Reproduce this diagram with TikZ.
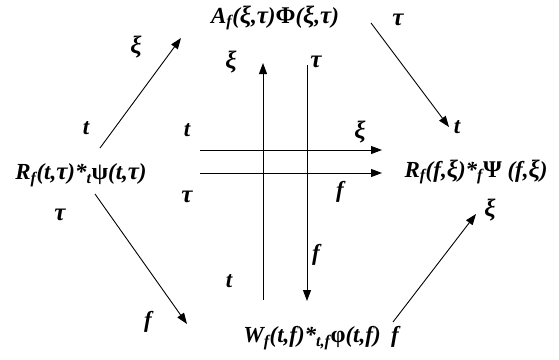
\documentclass[tikz,border=0pt]{standalone}
\usepackage{fontspec}
\setmainfont{Liberation Serif}
\usetikzlibrary{arrows.meta}
\newcommand\gk[1]{{\fontsize{25}{24}\selectfont #1}}
\newcommand\gu[1]{{\fontsize{24}{24}\selectfont\upshape #1}}
\begin{document}
\begin{tikzpicture}[x=1pt,y=-1pt,
  lbl/.style={font=\fontsize{23}{26}\selectfont\bfseries\itshape, inner sep=0pt},
  arr/.style={line width=0.9pt, -{Triangle[length=11pt,width=8pt]}}]
\useasboundingbox (0,0) rectangle (559,359);
% main nodes
\node[lbl] (A)  at (275,18)  {A\textsubscript{f}(\gk{ξ},\gk{τ})\gu{Φ}(\gk{ξ},\gk{τ})};
\node[lbl] (RL) at (81,175)  {R\textsubscript{f}(t,\gk{τ})*\textsubscript{t}\gu{ψ}(t,\gk{τ})};
\node[lbl] (RR) at (476,172) {R\textsubscript{f}(f,\gk{ξ})*\textsubscript{f}\gu{Ψ} (f,\gk{ξ})};
\node[lbl] (W)  at (312,338) {W\textsubscript{f}(t,f)*\textsubscript{t,f}\gu{φ}(t,f)};
% axis labels
\node[lbl] (lxi1)  at (136,47)  {\gk{ξ}};
\node[lbl] (lt1)   at (86,128)  {t};
\node[lbl] (ltau1) at (60,215)  {\gk{τ}};
\node[lbl] (lf1)   at (148,322) {f};
\node[lbl] (ltau2) at (398,20)  {\gk{τ}};
\node[lbl] (lt2)   at (457,127) {t};
\node[lbl] (lxi2)  at (490,210) {\gk{ξ}};
\node[lbl] (lf2)   at (395,337) {f};
\node[lbl] (lt3)   at (187,130) {t};
\node[lbl] (ltau3) at (187,197) {\gk{τ}};
\node[lbl] (lxi3)  at (360,132) {\gk{ξ}};
\node[lbl] (lf3)   at (340,192) {f};
\node[lbl] (lxi4)  at (231,62)  {\gk{ξ}};
\node[lbl] (ltau4) at (316,62)  {\gk{τ}};
\node[lbl] (lf4)   at (316,255) {f};
\node[lbl] (lt4)   at (229,281) {t};
% arrow end points
\coordinate (a1s) at (100,148); \coordinate (a1e) at (181,38);
\coordinate (a2s) at (371,23);  \coordinate (a2e) at (449,127);
\coordinate (a3s) at (95,194);  \coordinate (a3e) at (187,324);
\coordinate (a4s) at (393,322); \coordinate (a4e) at (476,214);
\coordinate (h1s) at (200,150); \coordinate (h1e) at (382,150);
\coordinate (h2s) at (200,173); \coordinate (h2e) at (382,173);
\coordinate (v1s) at (263,300); \coordinate (v1e) at (263,63);
\coordinate (v2s) at (307,65);  \coordinate (v2e) at (307,301);
% connectors
\draw[arr] (a1s) -- (a1e);
\draw[arr] (a2s) -- (a2e);
\draw[arr] (a3s) -- (a3e);
\draw[arr] (a4s) -- (a4e);
\draw[arr] (h1s) -- (h1e);
\draw[arr] (h2s) -- (h2e);
\draw[arr] (v1s) -- (v1e);
\draw[arr] (v2s) -- (v2e);
\end{tikzpicture}
\end{document}
